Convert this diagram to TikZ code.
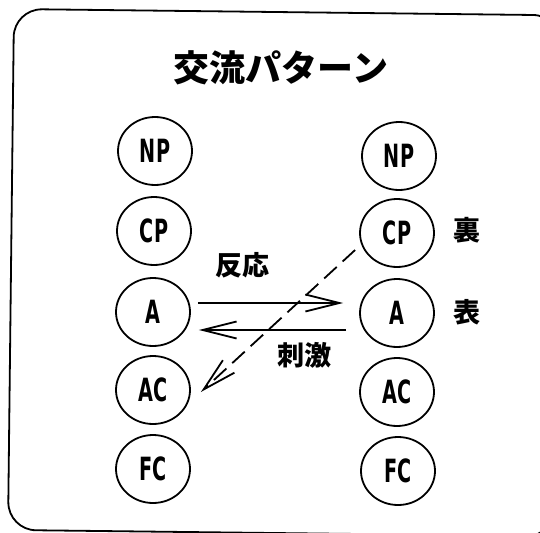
\documentclass[tikz,border=0pt]{standalone}
\usepackage{fontspec}
\newfontfamily\jp{Noto Sans CJK JP}
\newfontfamily\condf[FakeStretch=0.6]{DejaVu Sans}
\usetikzlibrary{shapes.geometric,arrows.meta}
\begin{document}
\begin{tikzpicture}[x=1pt,y=-1pt,
  ego/.style={ellipse,draw,line width=1.8pt,minimum width=74pt,minimum height=68pt,inner sep=0pt,font=\condf\bfseries\fontsize{32}{32}\selectfont},
  lbl/.style={font=\jp\bfseries\fontsize{27}{27}\selectfont,inner sep=0pt},
  arr/.style={line width=1.8pt,-{Straight Barb[length=34pt,width=17pt,line width=1.8pt]}},
  darr/.style={arr,dash pattern=on 17pt off 8pt}]
\useasboundingbox (0,0) rectangle (540,532);
\draw[line width=1.8pt,rounded corners=28pt,rotate around={-0.66:(14,9)}] (14,9) rectangle (561,530);
\node[font=\jp\bfseries\fontsize{36}{36}\selectfont,inner sep=0pt] (title) at (281,68) {交流パターン};
\node[ego] (lNP) at (155,151) {NP};
\node[ego] (lCP) at (154,231) {CP};
\node[ego] (lA)  at (153,312) {A};
\node[ego] (lAC) at (153,390) {AC};
\node[ego] (lFC) at (153,469) {FC};
\node[ego] (rNP) at (399,156) {NP};
\node[ego] (rCP) at (397,233) {CP};
\node[ego] (rA)  at (397,313) {A};
\node[ego] (rAC) at (397,392) {AC};
\node[ego] (rFC) at (398,471) {FC};
\node[lbl] (hanno) at (242,265) {反応};
\node[lbl] (shigeki) at (304,355) {刺激};
\node[lbl] (ura) at (467,230) {裏};
\node[lbl] (omote) at (467,312) {表};
\draw[arr] ([shift={(7,-9)}]lA.east) -- ([shift={(-16,-10)}]rA.west);
\draw[arr] ([shift={(-13,17)}]rA.west) -- ([shift={(8,18)}]lA.east);
\draw[darr] ([shift={(-4,17)}]rCP.west) -- ([shift={(10,2)}]lAC.east);
\end{tikzpicture}
\end{document}
